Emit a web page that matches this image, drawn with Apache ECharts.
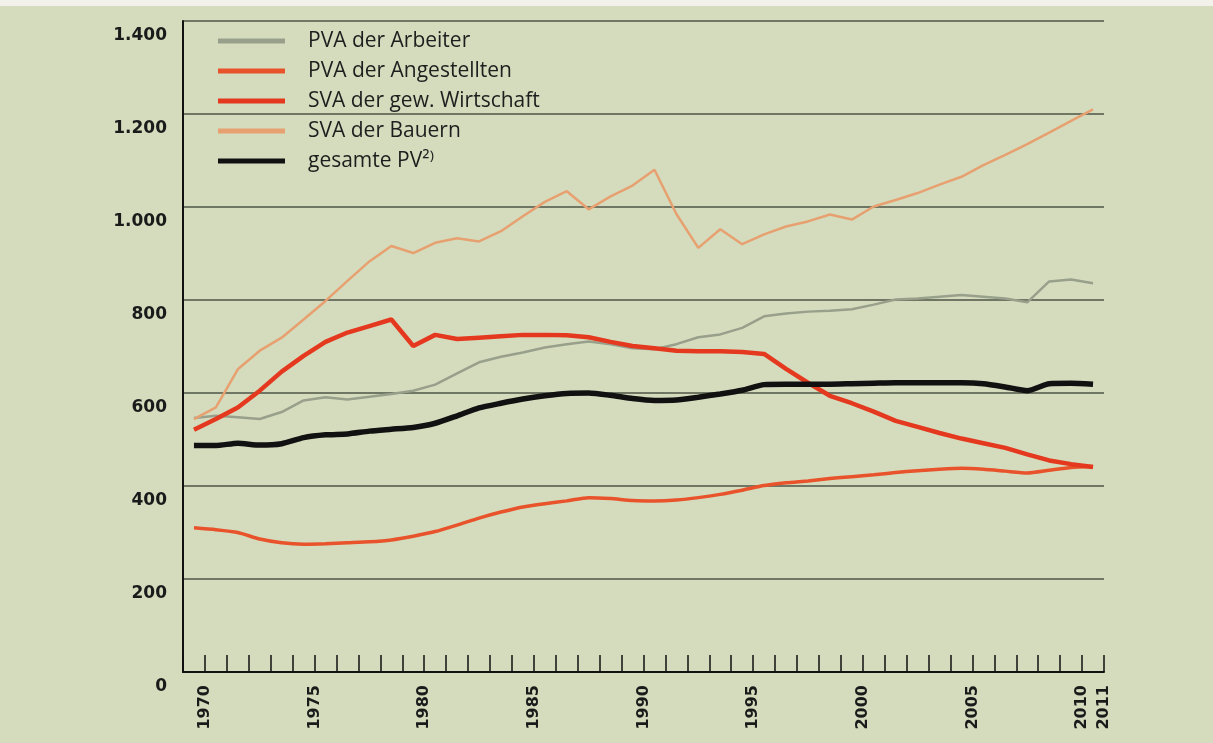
<!DOCTYPE html>
<html>
<head>
<meta charset="utf-8">
<script src="https://cdn.jsdelivr.net/npm/echarts@6/dist/echarts.min.js"></script>
<style>
html,body{margin:0;padding:0;background:#d5dcbd;}
#top{position:absolute;left:0;top:0;width:1213px;height:6px;background:#f2f2ea;}
#chart{width:1213px;height:743px;}
</style>
</head>
<body>
<div id="chart"></div>
<div id="top"></div>
<script>
const years = ['1970','1971','1972','1973','1974','1975','1976','1977','1978','1979','1980','1981','1982','1983','1984','1985','1986','1987','1988','1989','1990','1991','1992','1993','1994','1995','1996','1997','1998','1999','2000','2001','2002','2003','2004','2005','2006','2007','2008','2009','2010','2011'];
const shownYears = ['1970','1975','1980','1985','1990','1995','2000','2005','2010','2011'];
const yTicks = [0,200,400,600,800,1000,1200,1400];

const pvaArbeiter = [546,551,548,544,559,584,591,586,592,598,605,618,642,666,678,687,698,705,711,705,696,694,705,720,726,740,765,771,775,777,780,790,801,803,807,811,807,803,795,840,844,836];
const pvaAngestellte = [310,306,300,286,278,275,276,278,280,284,292,302,316,331,344,355,362,368,375,373,369,368,370,375,382,391,401,407,411,416,420,424,429,433,436,438,436,432,428,434,440,442];
const svaGewerbe = [521,544,569,605,646,680,710,730,744,758,701,725,716,719,722,725,725,724,720,710,701,696,691,690,690,688,684,652,622,594,578,560,540,527,514,502,492,482,468,455,447,441];
const svaBauern = [544,569,651,691,719,758,798,841,883,916,901,923,933,926,948,980,1011,1034,995,1023,1046,1080,985,912,952,920,941,958,969,984,973,1001,1015,1030,1048,1065,1090,1112,1135,1160,1185,1210];
const gesamtPV = [487,487,492,488,491,504,510,512,518,522,526,535,551,568,578,587,594,599,600,595,588,584,585,591,598,606,618,619,619,619,620,621,622,622,622,622,620,613,605,620,621,619];

const names = ['PVA der Arbeiter','PVA der Angestellten','SVA der gew. Wirtschaft','SVA der Bauern','gesamte PV\u00B2\u207E'];
const colors = ['#98a08c','#e8532b','#e4391f','#e7a070','#111111'];

const chart = echarts.init(document.getElementById('chart'));
const fmt = v => String(v).replace(/\B(?=(\d{3})+(?!\d))/g, '.');
const labelFont = '"DejaVu Sans", sans-serif';

chart.setOption({
  backgroundColor: '#d5dcbd',
  animation: false,
  legend: {
    orient: 'vertical',
    left: 218, top: 29, padding: 0,
    icon: 'rect',
    itemWidth: 67, itemHeight: 5, itemGap: 6,
    textStyle: { fontFamily: '"Open Sans", sans-serif', fontSize: 21, lineHeight: 24, color: '#1e1e1e', padding: [0,0,0,18] },
    data: names
  },
  grid: [
    { left: 183, right: 109, top: 21, bottom: 71 },
    { left: 205, right: 109, top: 21, bottom: 71 }
  ],
  xAxis: [
    {
      type: 'category', gridIndex: 0, data: years, boundaryGap: true,
      axisLine: { lineStyle: { color: '#111', width: 2 } },
      axisTick: { show: true, inside: true, length: 17, lineStyle: { color: '#111', width: 1.5 }, interval: 0 },
      axisLabel: { show: false }
    },
    {
      type: 'category', gridIndex: 1, data: years, boundaryGap: false,
      axisLine: { show: false }, axisTick: { show: false },
      axisLabel: {
        rotate: 90, margin: 13, interval: 0,
        formatter: v => shownYears.includes(v) ? v : '',
        fontFamily: labelFont, fontWeight: 'bold', fontSize: 16, color: '#1a1a1a'
      }
    }
  ],
  yAxis: [{
    type: 'value', gridIndex: 0, min: 0, max: 1400, interval: 200,
    axisLine: { show: true, lineStyle: { color: '#111', width: 2 } },
    axisTick: { show: false },
    splitLine: { lineStyle: { color: '#4d5446', width: 1.5 } },
    axisLabel: {
      margin: 16, verticalAlign: 'top', lineHeight: 30,
      formatter: v => yTicks.includes(v) ? fmt(v) : '',
      fontFamily: labelFont, fontWeight: 'bold', fontSize: 17, color: '#1a1a1a'
    }
  },{
    type: 'value', gridIndex: 1, min: 0, max: 1400, show: false
  }],
  series: [
    { name: names[0], type: 'line', data: pvaArbeiter, symbol: 'none', lineStyle: { color: colors[0], width: 2.5 }, itemStyle: { color: colors[0] }, z: 2 },
    { name: names[1], type: 'line', data: pvaAngestellte, symbol: 'none', smooth: 0.2, lineStyle: { color: colors[1], width: 3.5 }, itemStyle: { color: colors[1] }, z: 3 },
    { name: names[2], type: 'line', data: svaGewerbe, symbol: 'none', lineStyle: { color: colors[2], width: 4.5 }, itemStyle: { color: colors[2] }, z: 4 },
    { name: names[3], type: 'line', data: svaBauern, symbol: 'none', lineStyle: { color: colors[3], width: 2.5 }, itemStyle: { color: colors[3] }, z: 2 },
    { name: names[4], type: 'line', data: gesamtPV, symbol: 'none', smooth: 0.2, lineStyle: { color: colors[4], width: 5.5 }, itemStyle: { color: colors[4] }, z: 5 }
  ]
});
</script>
</body>
</html>
